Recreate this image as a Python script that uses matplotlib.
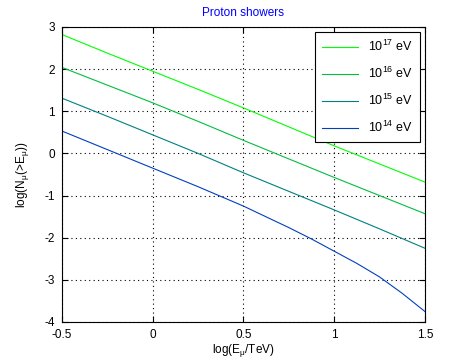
import matplotlib
matplotlib.use("Agg")
import matplotlib.pyplot as plt

plt.rcParams["font.family"] = ["Liberation Sans", "DejaVu Sans"]
plt.rcParams["mathtext.fontset"] = "custom"
plt.rcParams["mathtext.rm"] = "Liberation Sans"
plt.rcParams["mathtext.it"] = "Liberation Sans"

# log(E_mu / TeV)
log_e = [-0.5, -0.25, 0.0, 0.25, 0.5, 0.75, 1.0, 1.25, 1.5]
log_e_14 = [-0.5, -0.25, 0.0, 0.25, 0.5, 0.75, 0.875, 1.0, 1.125, 1.25, 1.375, 1.5]

# log(N_mu(>E_mu)) for each primary energy
n_1e17 = [2.82, 2.38, 1.95, 1.52, 1.08, 0.63, 0.18, -0.25, -0.68]
n_1e16 = [2.04, 1.62, 1.20, 0.76, 0.31, -0.13, -0.57, -1.00, -1.43]
n_1e15 = [1.31, 0.88, 0.44, 0.00, -0.46, -0.90, -1.34, -1.79, -2.25]
n_1e14 = [0.53, 0.09, -0.35, -0.79, -1.25, -1.76, -2.03, -2.32, -2.61, -2.93, -3.32, -3.75]

labels = ["$10^{17}$ eV", "$10^{16}$ eV", "$10^{15}$ eV", "$10^{14}$ eV"]
colors = [(0, 1.0, 0), (0, 0.75, 0.25), (0, 0.5, 0.5), (0, 0.25, 0.75)]

fig = plt.figure(figsize=(4.7, 3.58), dpi=100)
ax = fig.add_axes([0.132, 0.1006, 0.772, 0.824])

series = [(log_e, n_1e17), (log_e, n_1e16), (log_e, n_1e15), (log_e_14, n_1e14)]
for (xs, ys), lab, c in zip(series, labels, colors):
    ax.plot(xs, ys, color=c, linewidth=0.8, label=lab)

ax.set_xlim(-0.5, 1.5)
ax.set_ylim(-4, 3)
ax.set_xticks([-0.5, 0, 0.5, 1, 1.5])
ax.set_xticklabels(["-0.5", "0", "0.5", "1", "1.5"])
ax.set_yticks(range(-4, 4))
ax.set_yticklabels([str(v) for v in range(-4, 4)])
ax.grid(True, color="black", linestyle=(0, (1, 3)), linewidth=0.8)
ax.tick_params(direction="in", length=4, labelsize=8.5, top=True, right=True)
ax.tick_params(axis="x", pad=5)
ax.tick_params(axis="y", pad=5)
for sp in ax.spines.values():
    sp.set_linewidth(0.8)

ax.set_title("Proton showers", color="blue", fontsize=8.5, pad=8)
ax.set_xlabel(r"log(E$_\mu$/TeV)", fontsize=8.5, labelpad=1)
ax.set_ylabel(r"log(N$_\mu$(>E$_\mu$))", fontsize=8.5, labelpad=10)

leg = ax.legend(loc="upper right", fontsize=9, fancybox=False, framealpha=1,
                edgecolor="black", handlelength=2.9, labelspacing=0.95,
                borderaxespad=0.4, borderpad=0.55)
leg.get_frame().set_linewidth(0.8)

fig.savefig("out.png", dpi=100)
